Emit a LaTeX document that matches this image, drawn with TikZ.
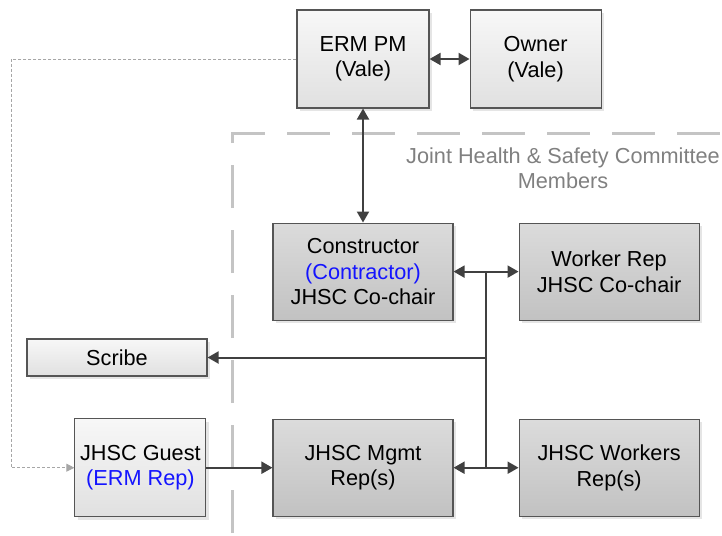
\documentclass[tikz,border=0pt]{standalone}
\usepackage{fontspec}
\setmainfont{Liberation Sans}
\usepackage{xcolor}
\usepackage{tikz}
\usetikzlibrary{arrows.meta,positioning,calc,shadows}
\definecolor{boxline}{RGB}{85,85,85}
\definecolor{linkgray}{RGB}{64,64,64}
\definecolor{framegray}{RGB}{196,196,196}
\definecolor{labelgray}{RGB}{128,128,128}
\definecolor{dotgray}{RGB}{166,166,166}
\definecolor{ermblue}{RGB}{20,20,255}

\begin{document}
\begin{tikzpicture}[
        x=1pt, y=-1pt,
        font=\fontsize{21.7}{25.5}\selectfont,
        card/.style={rectangle, draw=boxline, line width=1.1pt, inner sep=0pt, align=center,
            drop shadow={shadow xshift=3pt, shadow yshift=-3pt, fill=black!10, opacity=1}},
        lightcard/.style={card, top color=white!97!black, bottom color=white!88!black},
        darkcard/.style={card, top color=white!86!black, bottom color=white!76!black},
        link/.style={draw=linkgray, line width=2pt, >={Triangle[length=11pt, width=12pt]}},
        guestlink/.style={draw=dotgray, line width=0.9pt, dash pattern=on 3pt off 2pt,
            -{Triangle[length=8pt, width=8pt]}},
        committee/.style={draw=framegray, line width=3pt, dash pattern=on 43pt off 22pt}
    ]
        \useasboundingbox (0,0) rectangle (722,535);
        \clip (0,0) rectangle (722,535);

        % committee frame
        \draw[committee] (232,598) -- (232,133) -- (800,133);
        \node[text=labelgray, align=center] (jhsc) at (563,168) {Joint Health \& Safety Committee\\Members};

        % top row
        \node[lightcard, minimum width=132, minimum height=98] (erm) at (363,59) {ERM PM\\(Vale)};
        \node[lightcard, minimum width=131, minimum height=98, right=40pt of erm] (owner) {Owner\\(Vale)};

        % committee members
        \node[darkcard, minimum width=180, minimum height=97, below=114pt of erm] (cons)
            {Constructor\\\textcolor{ermblue}{(Contractor)}\\JHSC Co-chair};
        \node[darkcard, minimum width=180, minimum height=97, right=65pt of cons] (worker)
            {Worker Rep\\JHSC Co-chair};
        \node[darkcard, minimum width=180, minimum height=97, below=98pt of cons] (mgmt)
            {JHSC Mgmt\\Rep(s)};
        \node[darkcard, minimum width=180, minimum height=97, right=65pt of mgmt] (workers)
            {JHSC Workers\\Rep(s)};

        % outside the committee
        \node[lightcard, minimum width=131, minimum height=98, left=66pt of mgmt] (guest)
            {JHSC Guest\\\textcolor{ermblue}{(ERM Rep)}};
        \node[lightcard, minimum width=180, minimum height=37] (scribe) at (117,357.5) {Scribe};

        % connectors
        \coordinate (bus) at ($(cons.east)!0.5!(worker.west)$);
        \coordinate (loop) at (11,0);
        \draw[link, <->] (erm) -- (owner);
        \draw[link, <->] (erm) -- (cons);
        \draw[link, <->] (cons) -- (worker);
        \draw[link, <->] (mgmt) -- (workers);
        \draw[link] (bus) -- (bus |- mgmt.east);
        \draw[link, ->] (bus |- scribe.east) -- (scribe.east);
        \draw[link, ->] (guest) -- (mgmt);
        \draw[guestlink] (erm.west) -- (loop |- erm.west) -- (loop |- guest.west) -- (guest.west);
    \end{tikzpicture}
\end{document}
